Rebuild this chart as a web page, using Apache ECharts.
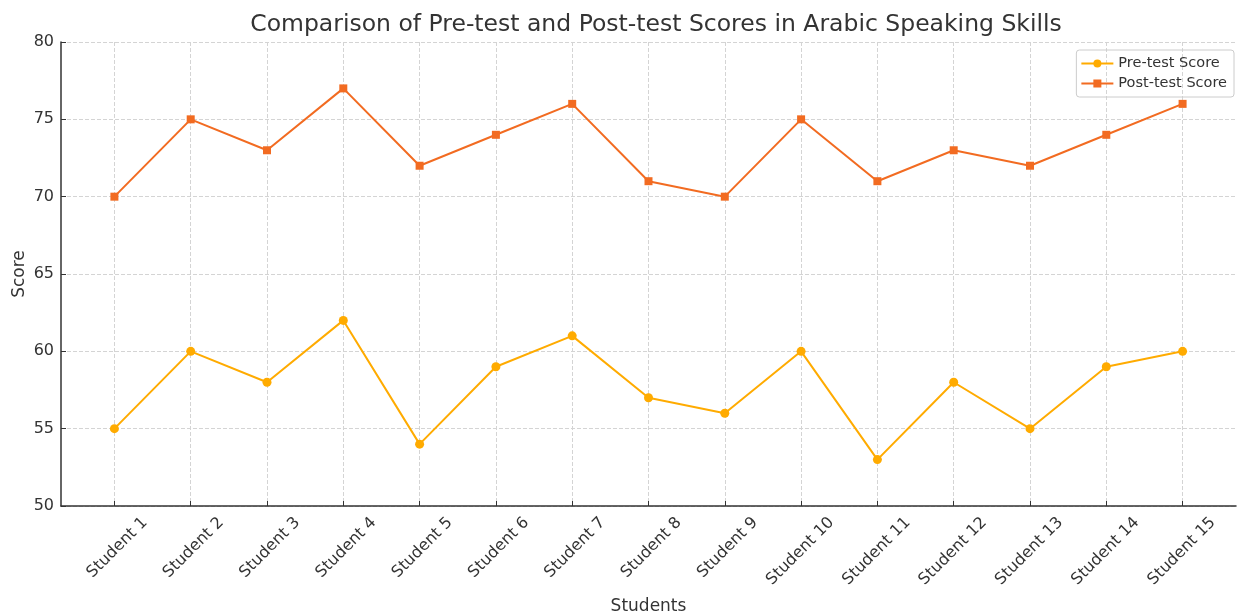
<!DOCTYPE html>
<html>
<head>
<meta charset="utf-8">
<script src="https://cdn.jsdelivr.net/npm/echarts@6/dist/echarts.min.js"></script>
<style>
  html, body { margin: 0; padding: 0; background: #fff; }
  #chart { width: 1237px; height: 614px; }
</style>
</head>
<body>
<div id="chart"></div>
<script>
// chart data
const students = ['Student 1', 'Student 2', 'Student 3', 'Student 4', 'Student 5',
  'Student 6', 'Student 7', 'Student 8', 'Student 9', 'Student 10',
  'Student 11', 'Student 12', 'Student 13', 'Student 14', 'Student 15'];
const preTest = [55, 60, 58, 62, 54, 59, 61, 57, 56, 60, 53, 58, 55, 59, 60];
const postTest = [70, 75, 73, 77, 72, 74, 76, 71, 70, 75, 71, 73, 72, 74, 76];
const scoreTicks = [50, 55, 60, 65, 70, 75, 80];

const font = 'DejaVu Sans';
const positions = students.map((s, i) => i);
// rotated labels are centred under the tick, so their right end sits a bit to the right
const labelShift = 0.4;
const labelPositions = positions.map(i => i + labelShift);

const myChart = echarts.init(document.getElementById('chart'));

const option = {
  backgroundColor: '#fff',
  animation: false,
  title: {
    text: 'Comparison of Pre-test and Post-test Scores in Arabic Speaking Skills',
    left: 651,
    textAlign: 'center',
    top: 8,
    textStyle: { fontFamily: font, fontSize: 23.5, fontWeight: 'normal', color: '#333' }
  },
  legend: {
    orient: 'vertical',
    right: 3,
    top: 50,
    itemWidth: 32,
    itemHeight: 10,
    itemGap: 5,
    padding: [6, 7, 6, 4],
    borderColor: '#ccc',
    borderWidth: 1,
    borderRadius: 3,
    textStyle: { fontFamily: font, fontSize: 14.5, color: '#333' }
  },
  grid: { left: 61, right: 1, top: 42, bottom: 108, outerBoundsMode: 'none' },
  xAxis: {
    type: 'value',
    min: -0.7,
    max: 14.7,
    name: 'Students',
    nameLocation: 'middle',
    nameGap: 92,
    nameMoveOverlap: false,
    nameTextStyle: { fontFamily: font, fontSize: 17, color: '#333' },
    axisLine: { show: true, onZero: false, lineStyle: { color: '#333', width: 1.5 } },
    axisTick: { show: true, inside: true, length: 5, customValues: positions, lineStyle: { color: '#333' } },
    axisLabel: {
      customValues: labelPositions,
      rotate: 45,
      margin: 14,
      fontFamily: font,
      fontSize: 16,
      color: '#333',
      formatter: v => students[Math.round(v - labelShift)]
    },
    splitLine: { show: true, lineStyle: { type: 'dashed', color: '#d4d4d4' } }
  },
  yAxis: {
    type: 'value',
    min: scoreTicks[0],
    max: scoreTicks[scoreTicks.length - 1],
    interval: 5,
    name: 'Score',
    nameLocation: 'middle',
    nameGap: 33,
    nameMoveOverlap: false,
    nameTextStyle: { fontFamily: font, fontSize: 17, color: '#333' },
    axisLine: { show: true, onZero: false, lineStyle: { color: '#333', width: 1.5 } },
    axisTick: { show: true, inside: true, length: 5, lineStyle: { color: '#333' } },
    axisLabel: { fontFamily: font, fontSize: 16, color: '#333', margin: 7 },
    splitLine: { show: true, lineStyle: { type: 'dashed', color: '#d4d4d4' } }
  },
  series: [
    {
      name: 'Pre-test Score',
      type: 'line',
      data: preTest.map((v, i) => [i, v]),
      symbol: 'circle',
      symbolSize: 9,
      lineStyle: { width: 2, color: '#ffab00' },
      itemStyle: { color: '#ffab00' }
    },
    {
      name: 'Post-test Score',
      type: 'line',
      data: postTest.map((v, i) => [i, v]),
      symbol: 'rect',
      symbolSize: 8,
      lineStyle: { width: 2, color: '#f26b21' },
      itemStyle: { color: '#f26b21' }
    }
  ]
};

myChart.setOption(option);
window.addEventListener('resize', () => myChart.resize());
</script>
</body>
</html>
